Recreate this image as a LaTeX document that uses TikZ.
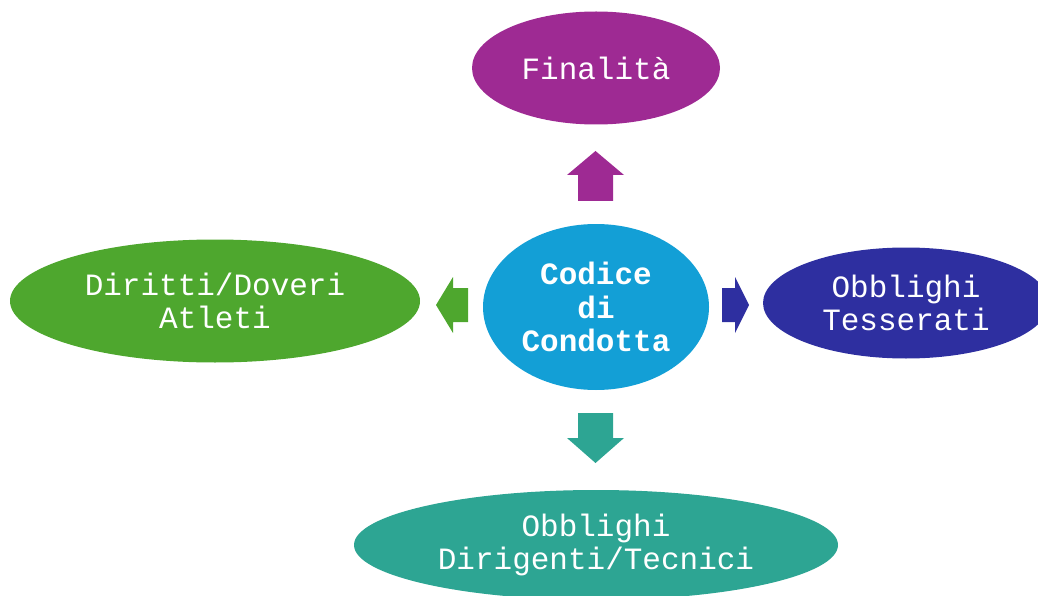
\documentclass[tikz,border=0pt]{standalone}
\usepackage{fontspec}
\setmainfont{Liberation Mono}
\usepackage{xcolor}
\usetikzlibrary{shapes.geometric}

\definecolor{finCol}{HTML}{9E2A93}
\definecolor{codCol}{HTML}{139FD6}
\definecolor{atlCol}{HTML}{4EA72E}
\definecolor{tesCol}{HTML}{2E2FA0}
\definecolor{dirCol}{HTML}{2DA593}

\tikzset{
 blob/.style={ellipse, inner sep=0pt, text=white, align=center,
   font=\fontsize{31}{33}\selectfont}
}

\begin{document}
\begin{tikzpicture}[x=1pt,y=-1pt]
\useasboundingbox (0,0) rectangle (1038,596);
\node[blob, fill=codCol, minimum width=226pt, minimum height=166pt, font=\fontsize{31}{33.5}\selectfont\bfseries] (cod) at (596,307) {Codice\\di\\Condotta};
\node[blob, fill=finCol, minimum width=248pt, minimum height=113pt] (fin) at (596,68) {Finalità};
\node[blob, fill=atlCol, minimum width=410pt, minimum height=123pt] (atl) at (215,301) {Diritti/Doveri\\Atleti};
\node[blob, fill=tesCol, minimum width=286pt, minimum height=111pt] (tes) at (906,303) {Obblighi\\Tesserati};
\node[blob, fill=dirCol, minimum width=484pt, minimum height=110pt] (dir) at (596,545) {Obblighi\\Dirigenti/Tecnici};
% block arrows
\fill[finCol] (578,201) -- (578,175) -- (567,175) -- (595.5,151) -- (624,175) -- (613,175) -- (613,201) -- cycle;
\fill[dirCol] (578,413) -- (613,413) -- (613,438) -- (624,438) -- (595.5,463) -- (567,438) -- (578,438) -- cycle;
\fill[atlCol] (468,288) -- (453,288) -- (453,277) -- (436,305) -- (453,333) -- (453,322) -- (468,322) -- cycle;
\fill[tesCol] (722,288) -- (735,288) -- (735,277) -- (749,305) -- (735,333) -- (735,322) -- (722,322) -- cycle;
\end{tikzpicture}
\end{document}
